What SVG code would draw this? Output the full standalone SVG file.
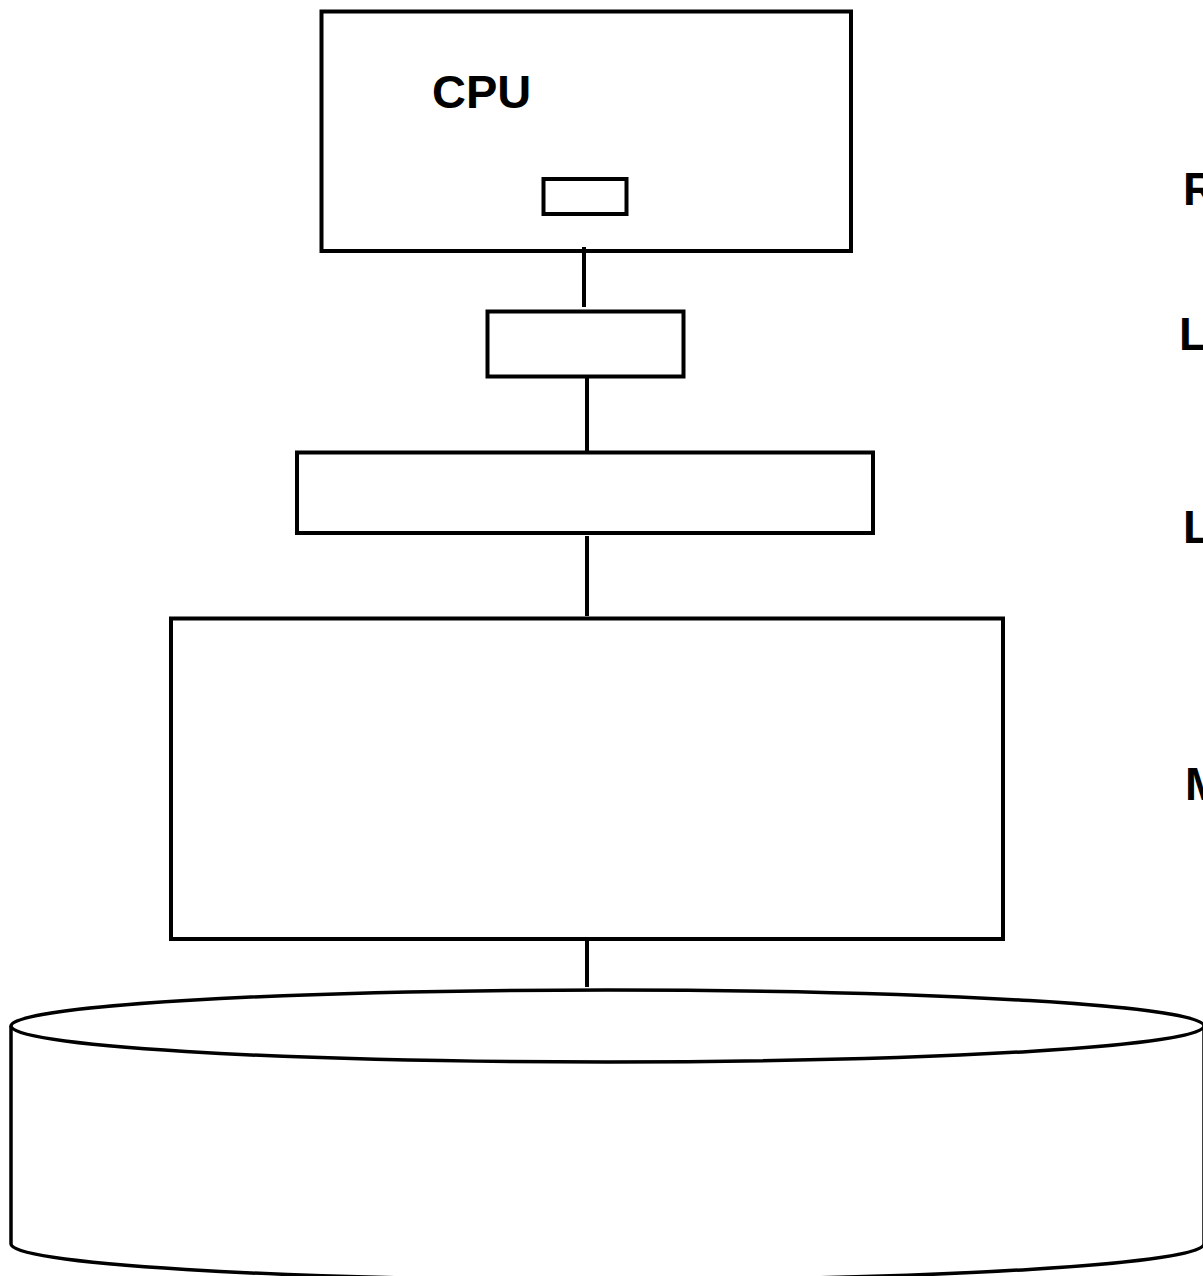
<svg xmlns="http://www.w3.org/2000/svg" width="1203" height="1276" viewBox="0 0 1203 1276">
<style>
.box{fill:#fff;stroke:#000;stroke-width:4}
.line{stroke:#000;stroke-width:4;fill:none}
.cyl{fill:#fff;stroke:#000;stroke-width:3.5}
.lbl{font-family:"Liberation Sans",Arial,sans-serif;font-weight:bold;font-size:46px;fill:#000}
</style>
<rect x="0" y="0" width="1203" height="1276" fill="#fff"/>
<g id="cpu">
<rect class="box" x="321.5" y="11.5" width="529.5" height="239.5"/>
<text class="lbl" x="432" y="108" style="font-size:47px">CPU</text>
</g>
<g id="register">
<rect class="box" x="543.5" y="179" width="83" height="35"/>
</g>
<g id="l1">
<rect class="box" x="487.5" y="311.5" width="196" height="65"/>
</g>
<g id="l2">
<rect class="box" x="297" y="452.5" width="576" height="80.5"/>
</g>
<g id="memory">
<rect class="box" x="171" y="618.5" width="832" height="320.5"/>
</g>
<g id="disk">
<path class="cyl" d="M11,1026 L11,1244 A596.5,36 0 0 0 1204,1244 L1204,1026"/>
<ellipse class="cyl" cx="607.5" cy="1026" rx="596.5" ry="36"/>
</g>
<g id="connectors">
<line class="line" x1="584" y1="247" x2="584" y2="307"/>
<line class="line" x1="587" y1="377" x2="587" y2="451"/>
<line class="line" x1="587" y1="536" x2="587" y2="616"/>
<line class="line" x1="587" y1="940" x2="587" y2="987"/>
</g>
<g id="labels">
<text class="lbl" x="1183" y="205">R</text>
<text class="lbl" x="1179" y="350">L</text>
<text class="lbl" x="1183" y="543">L</text>
<text class="lbl" x="1185" y="800">M</text>
</g>
</svg>
